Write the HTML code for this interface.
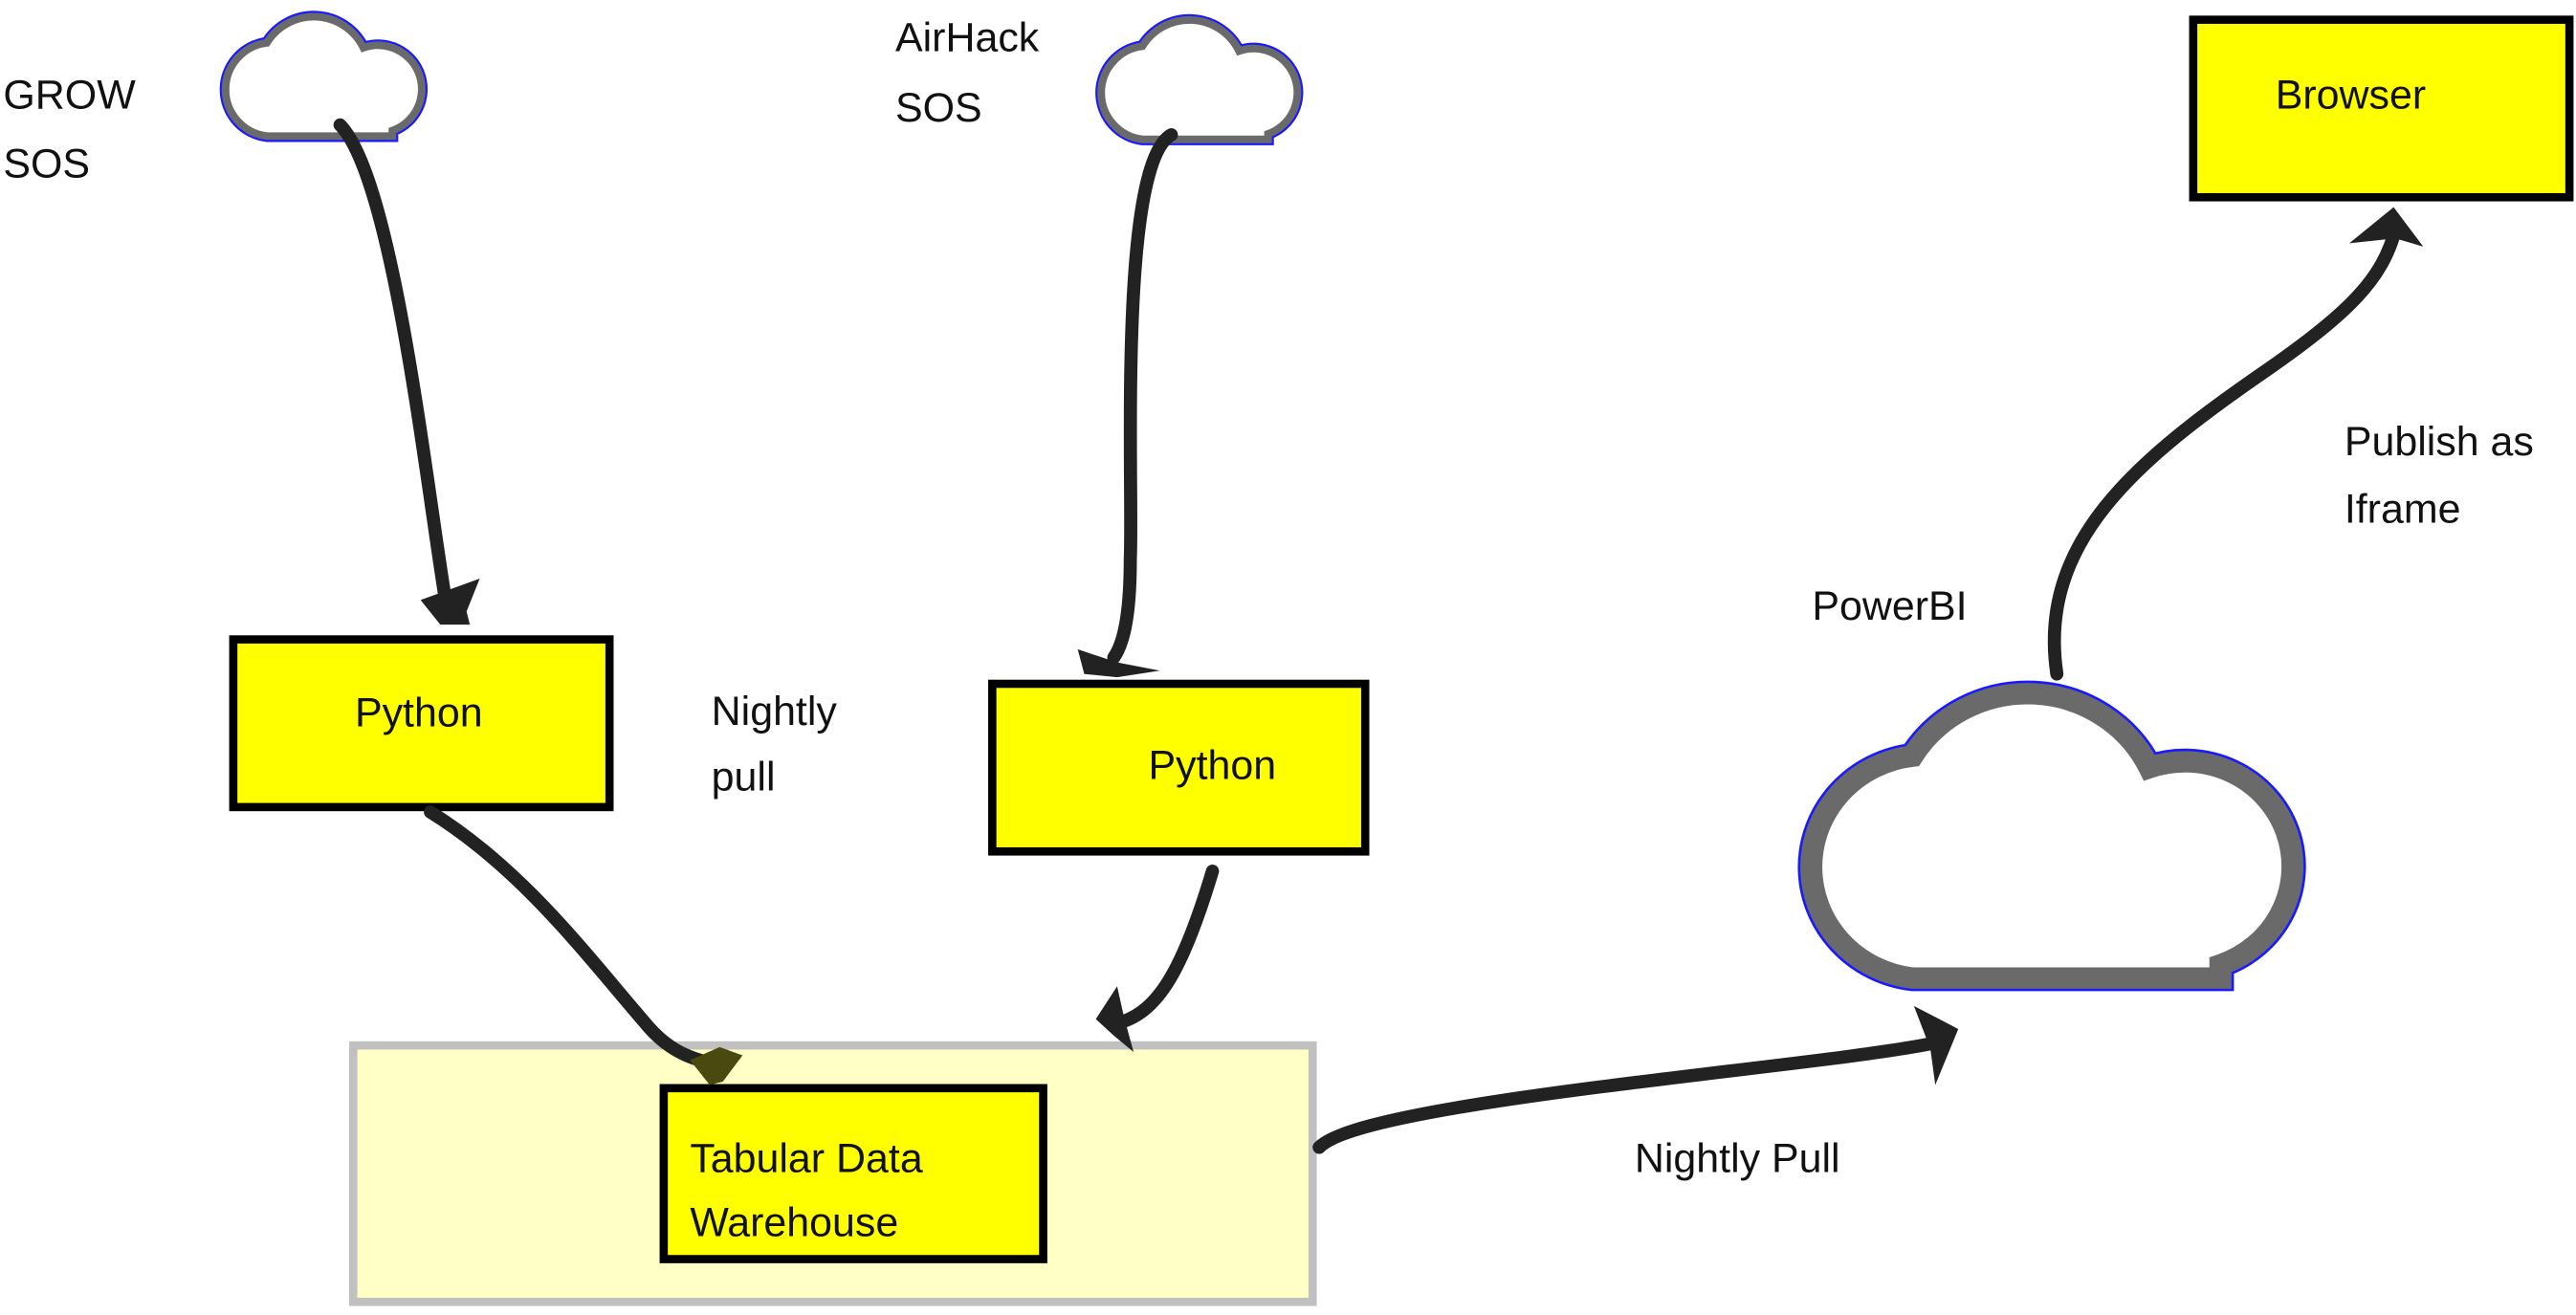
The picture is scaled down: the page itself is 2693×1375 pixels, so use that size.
<!DOCTYPE html>
<html><head><style>html,body{margin:0;padding:0;background:#fff;}svg{display:block}</style></head>
<body>
<svg width="2693" height="1375" viewBox="0 0 1568 800" preserveAspectRatio="none" xmlns="http://www.w3.org/2000/svg" font-family="'Liberation Sans', sans-serif">
<defs>
<path id="cloud" d="M 70 190 L 252 190 L 252 182 A 62 62 0 0 0 210 62 A 80 80 0 0 0 70 55 A 68 68 0 0 0 70 190 Z"/>
</defs>
<rect x="215" y="636" width="584" height="156" fill="#ffffc6" stroke="#c0c0c0" stroke-width="5"/>
<g transform="translate(133,3) scale(0.42)"><use href="#cloud" fill="#fff" stroke="#1a1aff" stroke-width="17"/><use href="#cloud" fill="#fff" stroke="#6a6a6a" stroke-width="11"/></g>
<g transform="translate(666,5) scale(0.42)"><use href="#cloud" fill="#fff" stroke="#1a1aff" stroke-width="17"/><use href="#cloud" fill="#fff" stroke="#6a6a6a" stroke-width="11"/></g>
<g transform="translate(1092,405) scale(1.03,1.0)"><use href="#cloud" fill="#fff" stroke="#1a1aff" stroke-width="16"/><use href="#cloud" fill="#fff" stroke="#6a6a6a" stroke-width="13"/></g>
<rect x="142" y="389" width="229" height="102" fill="#ffff00" stroke="#000" stroke-width="5"/>
<rect x="604" y="416" width="227" height="102" fill="#ffff00" stroke="#000" stroke-width="5"/>
<rect x="404" y="662" width="231" height="104" fill="#ffff00" stroke="#000" stroke-width="5"/>
<rect x="1335" y="12" width="229" height="108" fill="#ffff00" stroke="#000" stroke-width="5"/>
<g fill="none" stroke="#222" stroke-width="8" stroke-linecap="round">
<path d="M 207 76 C 240 110 260 300 272 370"/>
<path d="M 713 82 C 680 100 690 300 688 340 C 688 370 685 390 678 400"/>
<path d="M 262 494 C 320 530 360 585 395 625 C 410 642 425 645 438 648"/>
<path d="M 738 530 C 720 590 705 615 682 622"/>
<path d="M 803 698 C 830 670 1100 650 1175 635"/>
<path d="M 1252 410 C 1240 330 1300 280 1380 225 C 1430 190 1450 170 1458 140"/>
</g>
<g fill="#222">
<path d="M 256 365 L 292 352 L 284 372 L 286 380 L 268 380 Z"/>
<path d="M 656 395 L 680 403 L 706 408 L 680 412 L 660 410 Z"/>
<path d="M 420 645 L 438 637 L 452 642 L 440 658 L 432 660 Z" fill="#4a4a10"/>
<path d="M 667 620 L 680 600 L 684 618 L 690 640 L 678 630 Z"/>
<path d="M 1165 612 L 1192 626 L 1178 660 L 1175 638 Z"/>
<path d="M 1430 148 L 1457 126 L 1475 150 L 1458 145 Z"/>
</g>
<g font-size="25" fill="#111">
<text x="2" y="66">GROW</text><text x="2" y="108">SOS</text>
<text x="545" y="31">AirHack</text><text x="545" y="74">SOS</text>
<text x="216" y="442">Python</text>
<text x="699" y="474">Python</text>
<text x="433" y="441">Nightly</text><text x="433" y="481">pull</text>
<text x="420" y="713">Tabular Data</text><text x="420" y="752">Warehouse</text>
<text x="1385" y="66">Browser</text>
<text x="1103" y="377">PowerBI</text>
<text x="1427" y="277">Publish as</text><text x="1427" y="318">Iframe</text>
<text x="995" y="713">Nightly Pull</text>
</g>
</svg>
</body></html>
